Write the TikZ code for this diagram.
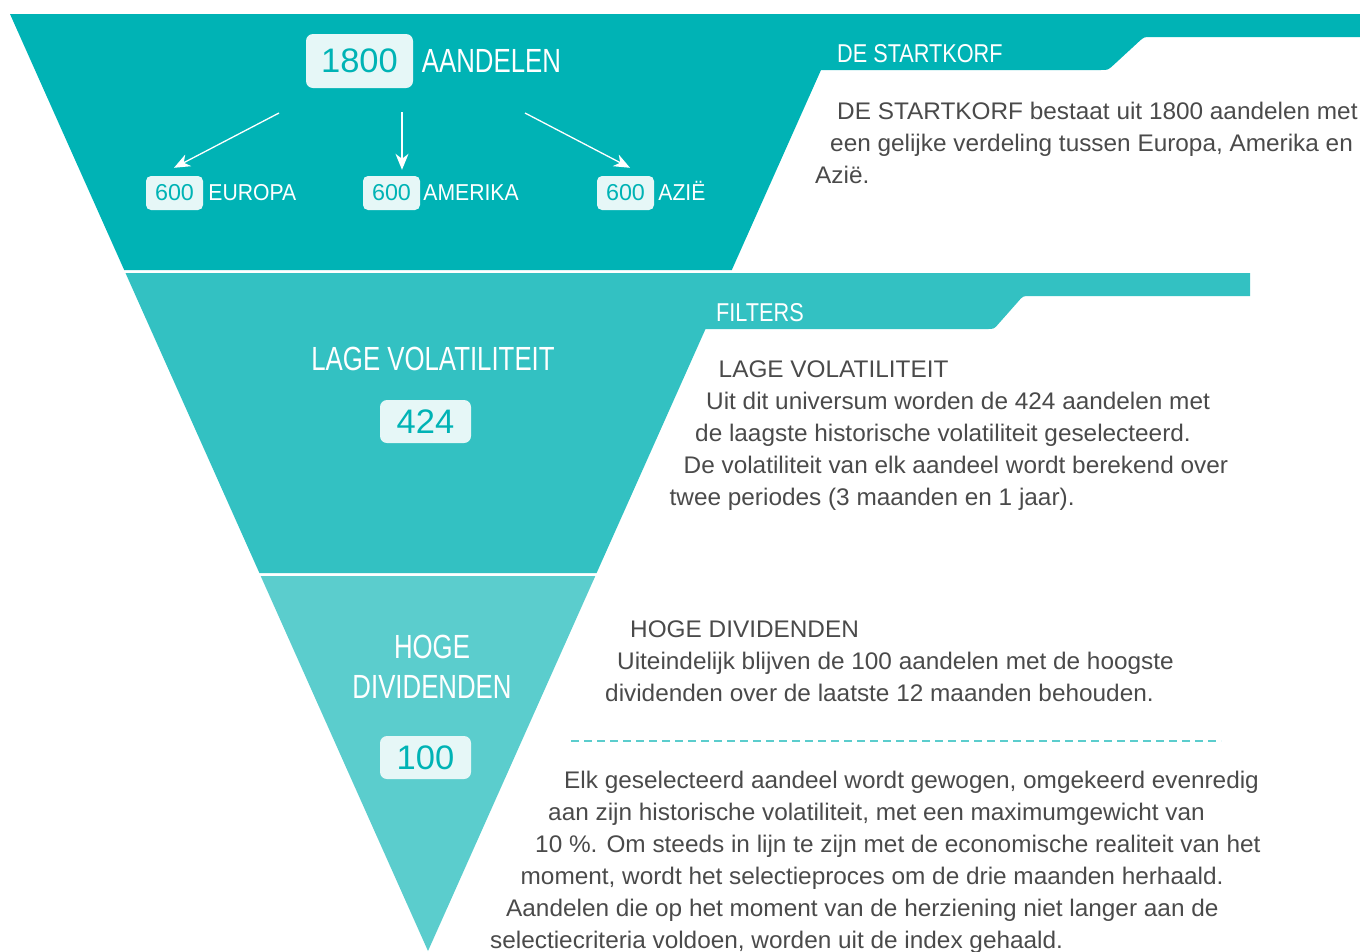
\documentclass[tikz,border=0pt]{standalone}
\usepackage{fontspec}
\setmainfont[FakeStretch=1.015]{Liberation Sans}
\newfontfamily\condfont[FakeStretch=0.77]{Liberation Sans}
\newfontfamily\bandfont[FakeStretch=0.84]{Liberation Sans}
\newfontfamily\smallfont[FakeStretch=0.92]{Liberation Sans}
\usetikzlibrary{positioning,arrows.meta}
\definecolor{tealA}{HTML}{00B3B5}
\definecolor{tealB}{HTML}{33C1C2}
\definecolor{tealC}{HTML}{5BCDCD}
\definecolor{boxbg}{HTML}{E6F7F7}
\definecolor{txt}{HTML}{4A4A4A}
\begin{document}
\begin{tikzpicture}[x=1pt,y=-1pt,
    numbig/.style={fill=boxbg, rounded corners=7pt, text=tealA, inner sep=0pt, font=\fontsize{34}{36}\selectfont},
    numsmall/.style={fill=boxbg, rounded corners=5pt, text=tealA, inner sep=0pt, minimum width=57pt, minimum height=34pt, font=\fontsize{23}{26}\selectfont},
    biglbl/.style={text=white, inner sep=0pt, font=\condfont\fontsize{33.5}{36}\selectfont},
    smalllbl/.style={text=white, inner sep=0pt, anchor=base west, font=\smallfont\fontsize{23}{26}\selectfont},
    bandlbl/.style={text=white, inner sep=0pt, anchor=base west, font=\bandfont\fontsize{25.8}{28}\selectfont},
    body/.style={text=txt, inner sep=0pt, anchor=base west, font=\fontsize{24}{28}\selectfont},
    arr/.style={draw=white, line width=1.3pt, -{Stealth[length=16pt,width=13pt,inset=5pt]}},
    sepline/.style={draw=tealC, line width=2.5pt, dash pattern=on 8pt off 5pt}]
\useasboundingbox (0,0) rectangle (1360,951);

% funnel sections with their bands
\fill[tealA] (10,14) -- (1360,14) -- (1360,37) -- (1151,37) .. controls (1144,37) .. (1138.8,41.7)
    -- (1113.2,65.3) .. controls (1108,70) .. (1101,70) -- (821,70) -- (731.8,270) -- (124.2,270) -- cycle;
\fill[tealB] (125.5,273) -- (1250,273) -- (1250,296) -- (1030,296) .. controls (1023,296) .. (1018.4,301.3)
    -- (998.6,323.7) .. controls (994,329) .. (987,329) -- (705.5,329) -- (596.6,573) -- (259.4,573) -- cycle;
\fill[tealC] (260.7,576) -- (595.3,576) -- (428,951) -- cycle;

% top section
\node[numbig, minimum width=107pt, minimum height=54pt] (total) at (359.5,61) {1800};
\node[biglbl, anchor=base west] (aandelen) at ([xshift=8.5pt]total.base east) {AANDELEN};
\node[numsmall] (eu) at (174.5,193) {600};
\node[smalllbl] (eulbl) at ([xshift=5pt]eu.base east) {EUROPA};
\node[numsmall] (am) at (391.5,193) {600};
\node[smalllbl] (amlbl) at ([xshift=3pt]am.base east) {AMERIKA};
\node[numsmall] (az) at (625.5,193) {600};
\node[smalllbl] (azlbl) at ([xshift=4pt]az.base east) {AZIË};
\coordinate (s1) at (279,113);
\coordinate (s2) at (402,112);
\coordinate (s3) at (525,113);
\draw[arr] (s1) -- ([xshift=-0.5pt,yshift=8pt]eu.north);
\draw[arr] (s2) -- ([yshift=6pt]s2 |- am.north);
\draw[arr] (s3) -- ([xshift=4.5pt,yshift=8pt]az.north);

% middle and bottom sections
\node[biglbl] (vol) at (433,359) {LAGE VOLATILITEIT};
\node[numbig, minimum width=91pt, minimum height=43pt] (n424) at (425.5,421.5) {424};
\node[biglbl] (hoge) at (432,647) {HOGE};
\node[biglbl] (divi) at (432,687) {DIVIDENDEN};
\node[numbig, minimum width=91pt, minimum height=43pt] (n100) at (425.5,757.5) {100};

% band labels
\node[bandlbl] (startkorf) at (837,62) {DE STARTKORF};
\node[bandlbl] (filters) at (716,321.5) {FILTERS};

% texts
\node[body] (t1a) at (837,119) {DE STARTKORF bestaat uit 1800 aandelen met};
\node[body] (t1b) at (830,151) {een gelijke verdeling tussen Europa, Amerika en};
\node[body] (t1c) at (815,183) {Azië.};

\node[body] (t2a) at (718.5,377) {LAGE VOLATILITEIT};
\node[body] (t2b) at (706,409) {Uit dit universum worden de 424 aandelen met};
\node[body] (t2c) at (695,441) {de laagste historische volatiliteit geselecteerd.};
\node[body] (t2d) at (683.5,473) {De volatiliteit van elk aandeel wordt berekend over};
\node[body] (t2e) at (669.5,505) {twee periodes (3 maanden en 1 jaar).};

\node[body] (t3a) at (630,637) {HOGE DIVIDENDEN};
\node[body] (t3b) at (617,669) {Uiteindelijk blijven de 100 aandelen met de hoogste};
\node[body] (t3c) at (605,701) {dividenden over de laatste 12 maanden behouden.};

\coordinate (d1) at (571,741);
\coordinate (d2) at (1221,741);
\draw[sepline] (d1) -- (d2);

\node[body] (t4a) at (564,788) {Elk geselecteerd aandeel wordt gewogen, omgekeerd evenredig};
\node[body] (t4b) at (548,820) {aan zijn historische volatiliteit, met een maximumgewicht van};
\node[body] (t4c) at (535,852) {10 \%. Om steeds in lijn te zijn met de economische realiteit van het};
\node[body] (t4d) at (520.5,884) {moment, wordt het selectieproces om de drie maanden herhaald.};
\node[body] (t4e) at (506,916) {Aandelen die op het moment van de herziening niet langer aan de};
\node[body] (t4f) at (490,948) {selectiecriteria voldoen, worden uit de index gehaald.};
\end{tikzpicture}
\end{document}
